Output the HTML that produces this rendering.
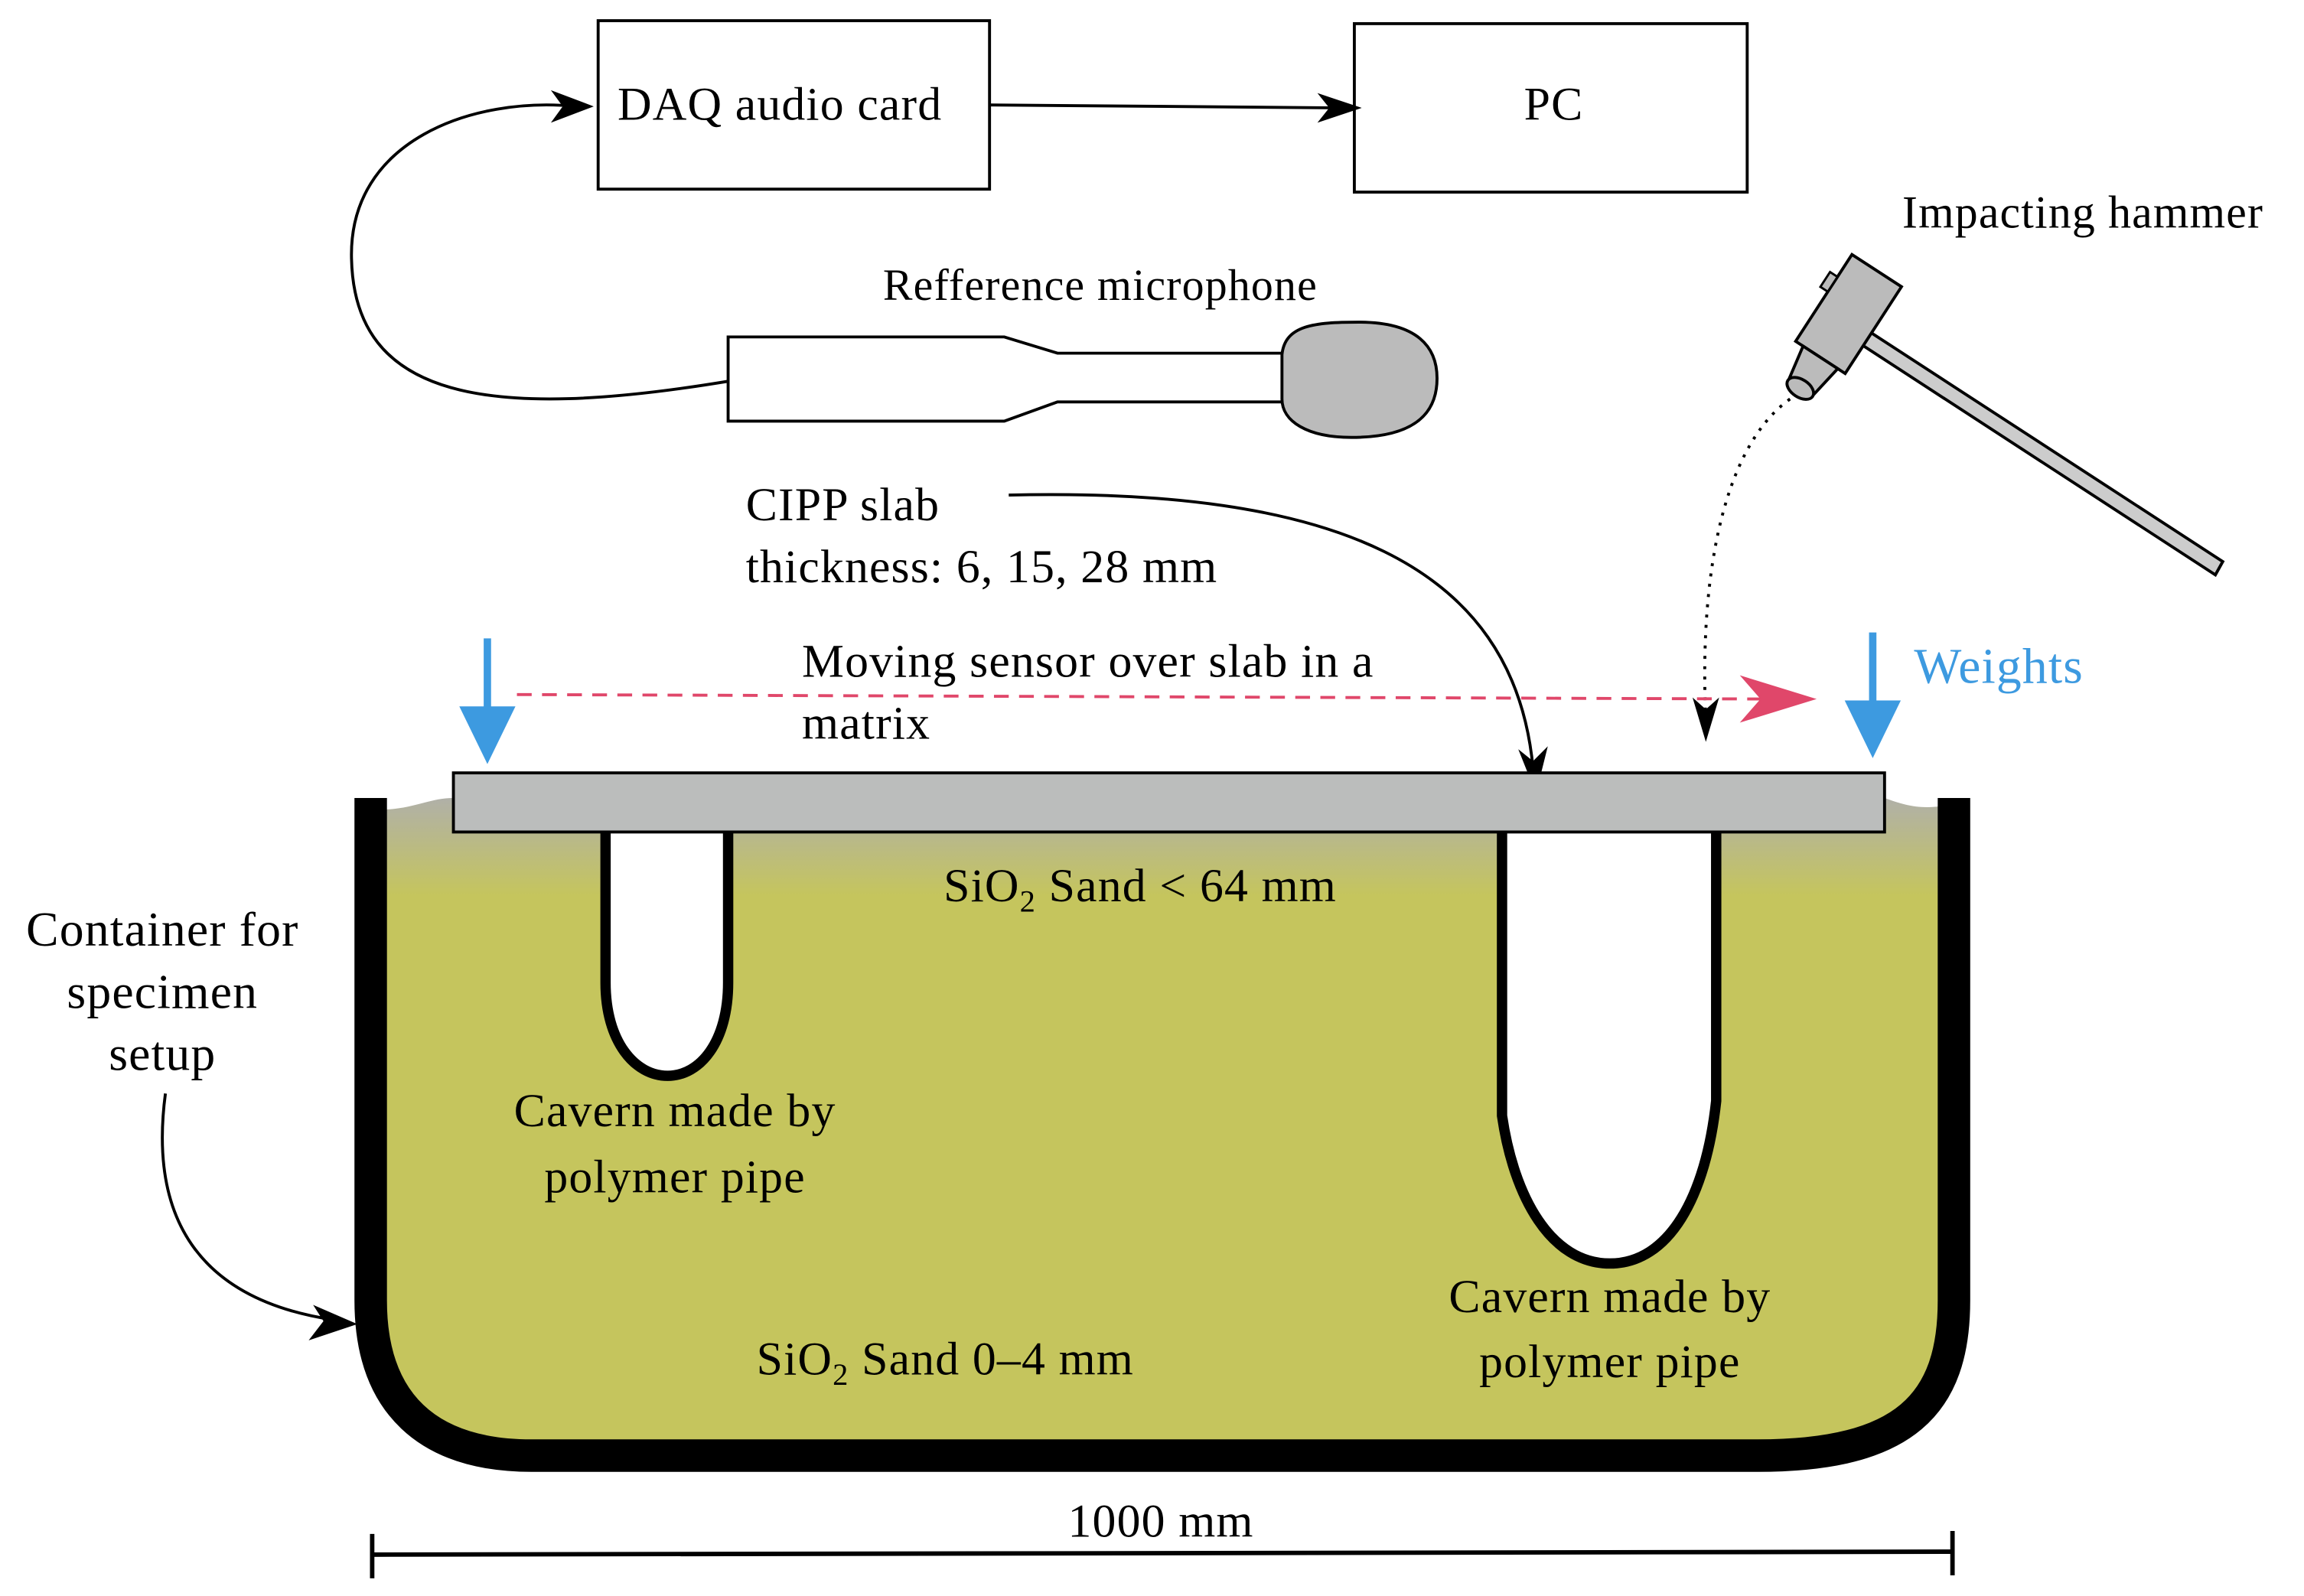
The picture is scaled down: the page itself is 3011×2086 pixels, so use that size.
<!DOCTYPE html>
<html><head><meta charset="utf-8"><style>
html,body{margin:0;padding:0;background:#fff;}
svg{display:block;}
text{font-family:"Liberation Serif",serif;font-size:32px;letter-spacing:0.6px;fill:#000;}
</style></head><body>
<svg width="3011" height="2086" viewBox="0 0 1560 1080" preserveAspectRatio="none" xmlns="http://www.w3.org/2000/svg">
<defs>
<linearGradient id="sand" x1="0" y1="0" x2="0" y2="1">
<stop offset="0" stop-color="#b0b0a8"/>
<stop offset="0.15" stop-color="#c5c55d"/>
<stop offset="1" stop-color="#c5c55d"/>
</linearGradient>
</defs>
<rect x="405" y="14" width="265" height="114" fill="#fff" stroke="#000" stroke-width="2"/>
<text x="528" y="81" text-anchor="middle">DAQ audio card</text>
<rect x="917" y="16" width="266" height="114" fill="#fff" stroke="#000" stroke-width="2"/>
<text x="1052" y="81" text-anchor="middle">PC</text>
<line x1="670" y1="71" x2="905" y2="73" stroke="#000" stroke-width="2"/>
<path d="M922,73 L892,63 L900,73 L892,83 Z" fill="#000"/>
<path d="M493,258 C330,285 240,270 238,175 C236,95 320,65 390,72" fill="none" stroke="#000" stroke-width="2"/>
<path d="M402,72 L373,61 L381,72 L373,83 Z" fill="#000"/>
<path d="M493,228 L680,228 L716,239 L870,239 L870,272 L716,272 L680,285 L493,285 Z" fill="#fff" stroke="#000" stroke-width="2"/>
<path d="M868,240 C870,220 890,218 920,218 C960,218 973,235 973,256 C973,282 955,296 915,296 C885,296 868,285 868,270 Z" fill="#bbb" stroke="#000" stroke-width="2"/>
<text x="745" y="203" text-anchor="middle" style="font-size:30px">Refference microphone</text>
<text x="1288" y="154" style="font-size:31px">Impacting hammer</text>
<path d="M1262,222 L1505,380 L1500,389 L1257,231 Z" fill="#ccc" stroke="#000" stroke-width="2"/>
<g transform="translate(1250,215) rotate(33)">
<rect x="-20" y="-38" width="40" height="70" fill="#bbb" stroke="#000" stroke-width="2"/>
<path d="M-14,32 L14,32 L10,55 L-10,55 Z" fill="#bbb" stroke="#000" stroke-width="2"/>
<ellipse cx="0" cy="57" rx="10" ry="6" fill="#bbb" stroke="#000" stroke-width="2"/>
<rect x="-26" y="-20" width="6" height="12" fill="#bbb" stroke="#000" stroke-width="1.5"/>
</g>
<path d="M1212,270 C1170,300 1150,380 1155,488" fill="none" stroke="#000" stroke-width="2" stroke-dasharray="2,5"/>
<path d="M1155,502 L1146,472 L1155,480 L1164,472 Z" fill="#000"/>
<text x="505" y="352">CIPP slab</text>
<text x="505" y="394">thickness: 6, 15, 28 mm</text>
<path d="M683,335 C900,330 1025,380 1038,520" fill="none" stroke="#000" stroke-width="2"/>
<path d="M1040,537 L1028,507 L1038,515 L1048,505 Z" fill="#000"/>
<text x="543" y="458">Moving sensor over slab in a</text>
<text x="543" y="500">matrix</text>
<line x1="350" y1="470" x2="1195" y2="473" stroke="#e0476a" stroke-width="2" stroke-dasharray="10,7"/>
<path d="M1230,473 L1178,457 L1192,473 L1178,489 Z" fill="#e0476a"/>
<line x1="330" y1="432" x2="330" y2="480" stroke="#3d9ae0" stroke-width="5"/>
<path d="M311,478 L349,478 L330,517 Z" fill="#3d9ae0"/>
<line x1="1268" y1="428" x2="1268" y2="476" stroke="#3d9ae0" stroke-width="5"/>
<path d="M1249,474 L1287,474 L1268,513 Z" fill="#3d9ae0"/>
<text x="1296" y="462" style="font-size:34px;fill:#3d9ae0">Weights</text>
<path d="M255,548 C280,548 290,540 307,540 L1276,540 C1290,545 1300,548 1318,545 L1318,880 C1318,945 1290,980 1190,980 L360,980 C300,980 255,945 255,880 Z" fill="url(#sand)"/>
<path d="M251,540 L251,880 C251,950 290,985 360,985 L1190,985 C1290,985 1323,950 1323,880 L1323,540" fill="none" stroke="#000" stroke-width="22"/>
<path d="M410,563 L410,665 C410,705 430,728 452,728 C474,728 493,705 493,665 L493,563" fill="#fff" stroke="#000" stroke-width="7"/>
<path d="M1017,563 L1017,755 C1025,810 1050,855 1090,855 C1130,855 1155,810 1162,745 L1162,563" fill="#fff" stroke="#000" stroke-width="7"/>
<rect x="307" y="523" width="969" height="40" fill="#bbbdbc" stroke="#000" stroke-width="2"/>
<text x="772" y="610" text-anchor="middle">SiO<tspan dy="7" style="font-size:21px">2</tspan><tspan dy="-7"> Sand &lt; 64 mm</tspan></text>
<text x="457" y="762" text-anchor="middle">Cavern made by</text>
<text x="457" y="807" text-anchor="middle">polymer pipe</text>
<text x="1090" y="888" text-anchor="middle">Cavern made by</text>
<text x="1090" y="932" text-anchor="middle">polymer pipe</text>
<text x="640" y="930" text-anchor="middle">SiO<tspan dy="7" style="font-size:21px">2</tspan><tspan dy="-7"> Sand 0–4 mm</tspan></text>
<text x="110" y="640" text-anchor="middle" style="font-size:33px">Container for</text>
<text x="110" y="682" text-anchor="middle" style="font-size:33px">specimen</text>
<text x="110" y="724" text-anchor="middle" style="font-size:33px">setup</text>
<path d="M112,740 C100,830 140,880 225,893" fill="none" stroke="#000" stroke-width="2"/>
<path d="M242,896 L212,883 L219,894 L209,907 Z" fill="#000"/>
<line x1="252" y1="1052" x2="1322" y2="1050" stroke="#000" stroke-width="3"/>
<line x1="252" y1="1038" x2="252" y2="1068" stroke="#000" stroke-width="3"/>
<line x1="1322" y1="1036" x2="1322" y2="1066" stroke="#000" stroke-width="3"/>
<text x="786" y="1040" text-anchor="middle">1000 mm</text>
</svg>
</body></html>
